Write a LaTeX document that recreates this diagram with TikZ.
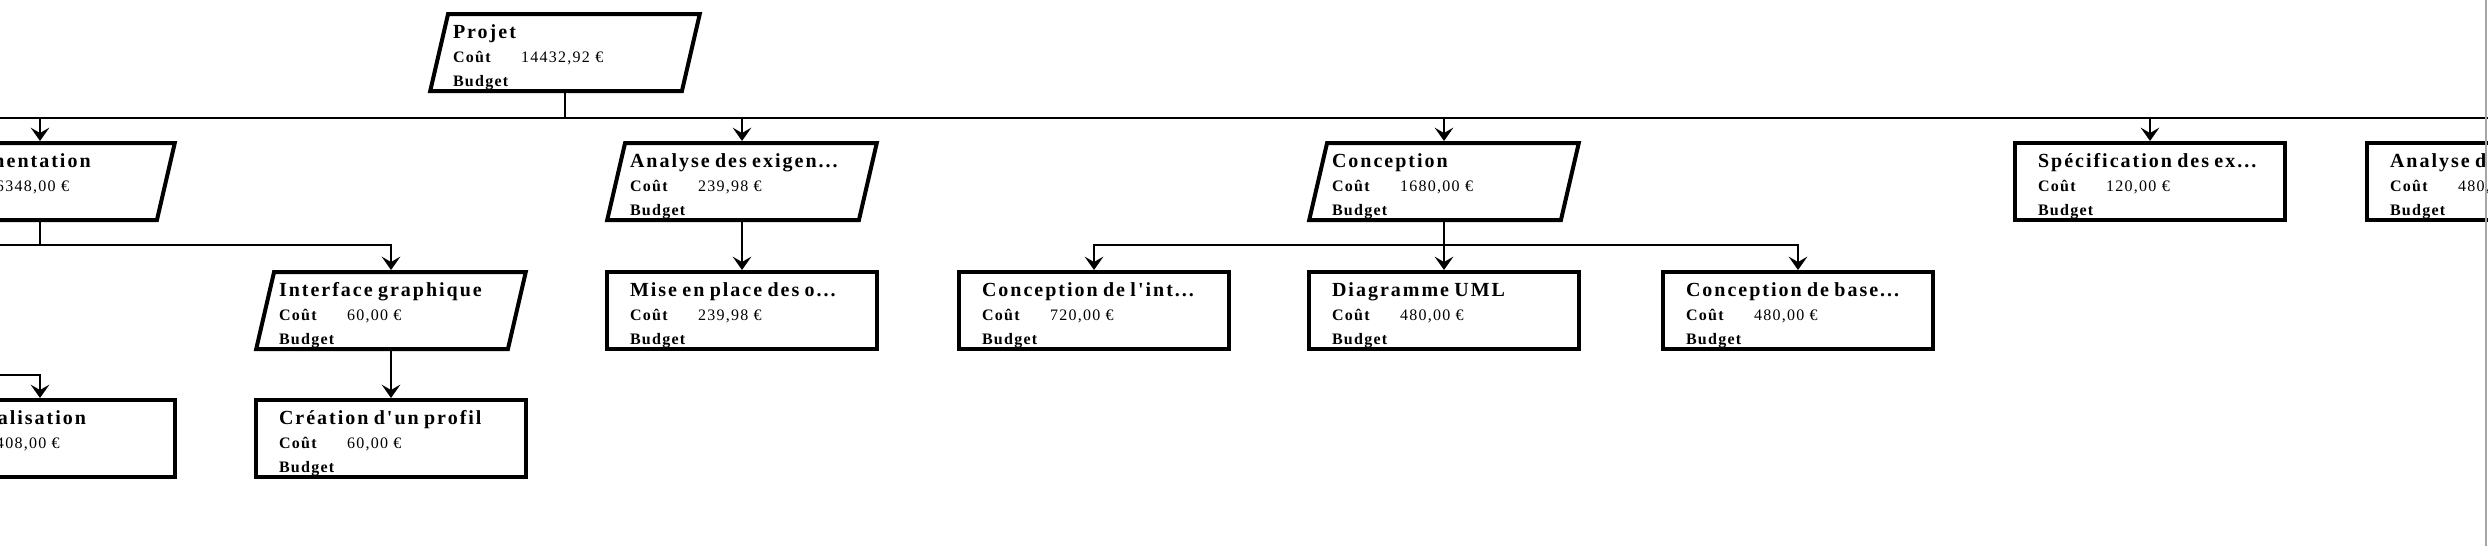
\documentclass[tikz,border=0pt]{standalone}
\usepackage{fontspec}
\setmainfont{Liberation Serif}
\newfontfamily\titre[LetterSpace=10]{Liberation Serif}
\newfontfamily\corps[LetterSpace=8]{Liberation Serif}
\usetikzlibrary{shapes.geometric,arrows.meta}

\newcommand{\tache}[2]{\mbox{\titre\bfseries\fontsize{15}{18}\selectfont #1}\\
\makebox[51pt][l]{\bfseries Coût}#2\\
{\bfseries Budget}}

\begin{document}
\begin{tikzpicture}[x=0.75pt,y=-0.75pt]
\useasboundingbox (0,0) rectangle (2488,546);
\clip (0,0) rectangle (2488,546);

% definitions
\tikzstyle{tache} = [rectangle, minimum width=202.5pt, minimum height=57.75pt, text width=168pt, text height=18pt, text depth=39.75pt, inner ysep=0pt, align=left, draw=black, line width=3pt, font=\corps\fontsize{12}{18}\selectfont]

\tikzstyle{groupe} = [tache, trapezium, trapezium left angle=77, trapezium right angle=103, trapezium stretches=true]

\tikzstyle{arrow} = [-{Stealth[length=10pt,width=14pt,inset=4pt]}, line width=1.2pt]

\tikzstyle{link} = [line width=1.2pt]

% the tree
\node (pj) [groupe] at (565,52.5) {\tache{Projet}{14432,92 €}};

\node (im) [groupe] at (40,181.5) {\tache{Implémentation}{6348,00 €}};
\node (ae) [groupe] at (742,181.5) {\tache{Analyse des exigen...}{239,98 €}};
\node (co) [groupe] at (1444,181.5) {\tache{Conception}{1680,00 €}};
\node (sp) [tache] at (2150,181.5) {\tache{Spécification des ex...}{120,00 €}};
\node (ad) [tache] at (2502,181.5) {\tache{Analyse des risques}{480,00 €}};

\node (ig) [groupe] at (391,310.5) {\tache{Interface graphique}{60,00 €}};
\node (mp) [tache] at (742,310.5) {\tache{Mise en place des o...}{239,98 €}};
\node (ci) [tache] at (1094,310.5) {\tache{Conception de l'int...}{720,00 €}};
\node (du) [tache] at (1444,310.5) {\tache{Diagramme UML}{480,00 €}};
\node (cb) [tache] at (1798,310.5) {\tache{Conception de base...}{480,00 €}};

\node (re) [tache] at (40,438.5) {\tache{Rationalisation}{408,00 €}};
\node (cp) [tache] at (391,438.5) {\tache{Création d'un profil}{60,00 €}};

% buses
\coordinate (bus0) at (-330,118);
\coordinate (fin0) at (2830,118);
\coordinate (bus1) at (-330,245);
\coordinate (bus2) at (-330,375);

\draw [link] (pj) -- (pj |- bus0);
\draw [link] (bus0) -- (fin0);
\foreach \t in {im,ae,co,sp,ad}
  \draw [arrow] (\t |- bus0) -- (\t);

\draw [link] (im) -- (im |- bus1);
\draw [arrow] (bus1) -| (ig);
\draw [arrow] (ae) -- (mp);
\draw [arrow] (co) -- (du);
\draw [arrow] (co |- bus1) -| (ci);
\draw [arrow] (co |- bus1) -| (cb);
\draw [arrow] (ig) -- (cp);
\draw [arrow] (bus2) -| (re);

% window edge
\draw [gray!70, line width=1.5pt] (2486,0) -- (2486,546);

\end{tikzpicture}
\end{document}
